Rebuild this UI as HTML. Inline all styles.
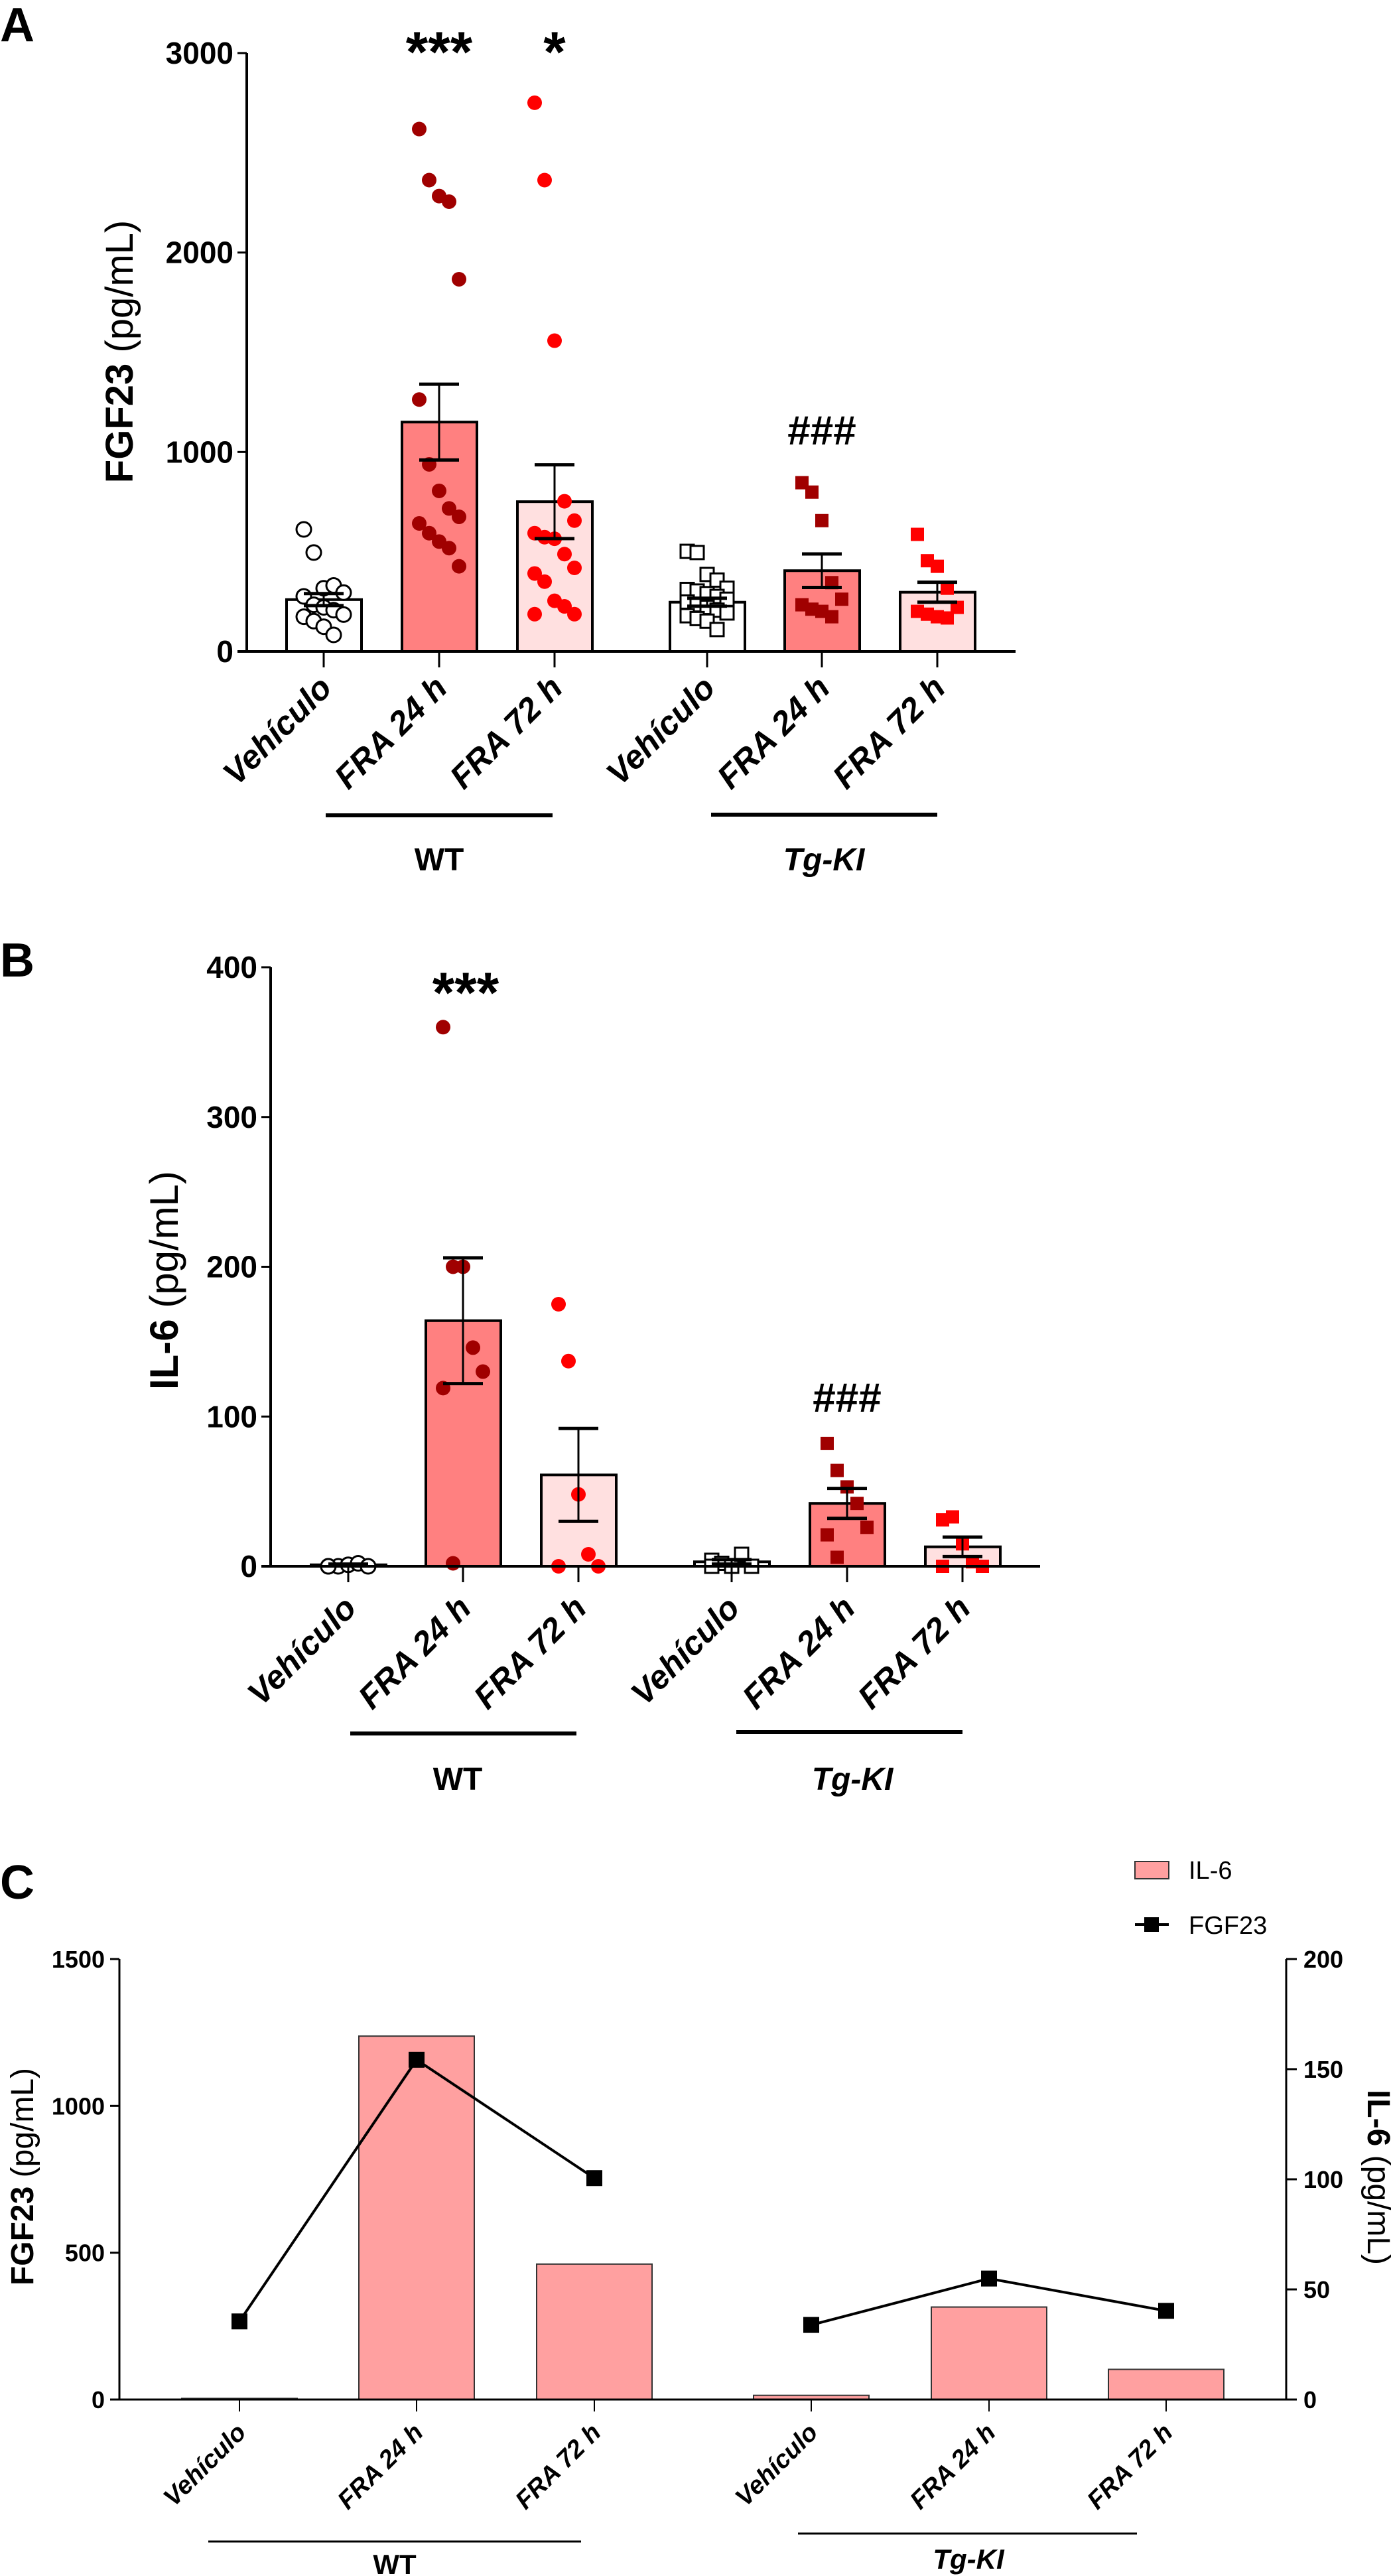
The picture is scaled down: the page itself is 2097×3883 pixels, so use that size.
<!DOCTYPE html>
<html><head><meta charset="utf-8"><style>
html,body{margin:0;padding:0;background:#fff}
svg{display:block;font-family:"Liberation Sans",Arial,sans-serif}
</style></head><body>
<svg id="fig" width="2097" height="3883" viewBox="0 0 2097 3883" xmlns="http://www.w3.org/2000/svg"></svg>
<script>
// ---------- Panel A data (FGF23 pg/mL) ----------
const catsA = ["Vehículo","FRA 24 h","FRA 72 h","Vehículo","FRA 24 h","FRA 72 h"];
const meansA = [260, 1150, 751, 247, 405, 297];
const semA = [30, 190, 185, 20, 84, 50];
const ptsA0 = [612,496,317,331,295,276,234,221,207,185,174,152,124,83];
const ptsA1 = [2619,2363,2283,2255,1866,1263,938,805,717,675,642,593,551,518,427];
const ptsA2 = [2751,2363,1558,753,656,593,573,565,488,419,391,350,254,226,187,187];
const ptsA3 = [502,496,386,358,317,311,303,290,276,262,248,234,221,207,193,179,165,152,110];
const ptsA4 = [846,799,656,345,262,234,212,201,174];
const ptsA5 = [587,455,427,317,221,201,187,174,168];
const ticksA = [0,1000,2000,3000];
// ---------- Panel B data (IL-6 pg/mL) ----------
const meansB = [1, 164, 61, 3, 42, 13];
const semB = [0.5, 42, 31, 1.5, 10, 6.5];
const ptsB0 = [0,0,1,2,0,0];
const ptsB1 = [360,200,200,146,130,119,2];
const ptsB2 = [175,137,48,8,0,0];
const ptsB3 = [4,2,0,8,0,0];
const ptsB4 = [82,64,53,42,26,21,6];
const ptsB5 = [31,33,15,3,0,0];
const ticksB = [0,100,200,300,400];
// ---------- Panel C data ----------
const il6C = [0.5, 165, 61.5, 1.9, 42, 13.7];
const fgfC = [266, 1157, 754, 254, 412, 302];
const ticksCL = [0,500,1000,1500];
const ticksCR = [0,50,100,150,200];

const NS="http://www.w3.org/2000/svg";
const svg=document.getElementById('fig');
function el(tag,attrs,parent,text){const e=document.createElementNS(NS,tag);for(const k in attrs)e.setAttribute(k,attrs[k]);if(text!==undefined)e.textContent=text;(parent||svg).appendChild(e);return e;}

function barPanel(cfg){
  const g=el('g',{});
  
  
  const y=v=>cfg.y0-(v-cfg.vmin)/(cfg.vmax-cfg.vmin)*(cfg.y0-cfg.y1);
  const ya=el('line',{x1:cfg.ax,y1:cfg.y1,x2:cfg.ax,y2:cfg.y0,stroke:'#000','stroke-width':4},g);
  
  cfg.ticks.forEach(t=>{
    el('line',{x1:cfg.ax-14,y1:y(t),x2:cfg.ax,y2:y(t),stroke:'#000','stroke-width':3},g);
    const tl=el('text',{x:cfg.ax-20,y:y(t)+16,'text-anchor':'end','font-size':46,'font-weight':'bold'},g,String(t));
    
  });
  cfg.means.forEach((m,i)=>{
    const cx=cfg.cx[i];
    const b=el('rect',{x:cx-56,y:y(m),width:113,height:cfg.y0-y(m),fill:cfg.fills[i],stroke:'#000','stroke-width':4},g);
    
  });
  cfg.pts.forEach((arr,i)=>{
    const cx=cfg.cx[i];
    arr.forEach((v,j)=>{
      const off=((j%5)-2)*15;
      const py=y(v);
      let p;
      if(cfg.sq[i]) p=el('rect',{x:cx+off-10,y:py-10,width:20,height:20,fill:cfg.pf[i],stroke:cfg.pf[i]==='#fff'?'#000':'none','stroke-width':3},g);
      else p=el('circle',{cx:cx+off,cy:py,r:11,fill:cfg.pf[i],stroke:cfg.pf[i]==='#fff'?'#000':'none','stroke-width':3},g);
      
    });
  });
  cfg.means.forEach((m,i)=>{
    const cx=cfg.cx[i];const s=cfg.sem[i];
    el('line',{x1:cx,y1:y(m+s),x2:cx,y2:y(Math.max(0,m-s)),stroke:'#000','stroke-width':3},g);
    el('line',{x1:cx-30,y1:y(m+s),x2:cx+30,y2:y(m+s),stroke:'#000','stroke-width':5},g);
    el('line',{x1:cx-30,y1:y(Math.max(0,m-s)),x2:cx+30,y2:y(Math.max(0,m-s)),stroke:'#000','stroke-width':5},g);
  });
  const xa=el('line',{x1:cfg.ax-14,y1:cfg.y0,x2:cfg.xend,y2:cfg.y0,stroke:'#000','stroke-width':4},g);
  
  catsA.forEach((c,i)=>{
    const cx=cfg.cx[i];
    el('line',{x1:cx,y1:cfg.y0,x2:cx,y2:cfg.y0+24,stroke:'#000','stroke-width':3},g);
    const t=el('text',{x:cx+15,y:cfg.y0+cfg.lab,'text-anchor':'end','font-size':50,'font-weight':'bold','font-style':'italic',transform:`rotate(-45 ${cx+15} ${cfg.y0+cfg.lab})`},g,c);
    
  });
  return g;
}

// Panel A
el('text',{x:0,y:62,'font-size':72,'font-weight':'bold'},svg,'A');
barPanel({name:'panel-a-chart',ax:372,y0:982,y1:80,vmin:0,vmax:3000,xend:1531,ticks:ticksA,
  cx:[488,662,836,1066,1239,1413],means:meansA,sem:semA,
  fills:['#fff','#ff8080','#ffe0e0','#fff','#ff8080','#ffe0e0'],
  pts:[ptsA0,ptsA1,ptsA2,ptsA3,ptsA4,ptsA5],sq:[0,0,0,1,1,1],
  pf:['#fff','#a00000','#ff0000','#fff','#a00000','#ff0000'],lab:58});
let t;
t=el('text',{x:0,y:0,'font-size':58,transform:'translate(200 530) rotate(-90)','text-anchor':'middle'},svg);
el('tspan',{'font-weight':'bold'},t,'FGF23');el('tspan',{},t,'  (pg/mL)');

el('text',{x:662,y:108,'text-anchor':'middle','font-size':86,'font-weight':'bold'},svg,'***');
el('text',{x:836,y:108,'text-anchor':'middle','font-size':86,'font-weight':'bold'},svg,'*');
el('text',{x:1239,y:670,'text-anchor':'middle','font-size':62,'font-weight':'bold'},svg,'###');
el('line',{x1:491,y1:1229,x2:833,y2:1229,stroke:'#000','stroke-width':6});
el('line',{x1:1072,y1:1228,x2:1413,y2:1228,stroke:'#000','stroke-width':6});
el('text',{x:662,y:1312,'text-anchor':'middle','font-size':48,'font-weight':'bold'},svg,'WT');
el('text',{x:1242,y:1312,'text-anchor':'middle','font-size':48,'font-weight':'bold','font-style':'italic'},svg,'Tg-KI');

// Panel B
el('text',{x:0,y:1472,'font-size':72,'font-weight':'bold'},svg,'B');
barPanel({name:'panel-b-chart',ax:408,y0:2361,y1:1458,vmin:0,vmax:400,xend:1568,ticks:ticksB,
  cx:[525,698,872,1103,1277,1451],means:meansB,sem:semB,
  fills:['#fff','#ff8080','#ffe0e0','#fff','#ff8080','#ffe0e0'],
  pts:[ptsB0,ptsB1,ptsB2,ptsB3,ptsB4,ptsB5],sq:[0,0,0,1,1,1],
  pf:['#fff','#a00000','#ff0000','#fff','#a00000','#ff0000'],lab:66});
t=el('text',{x:0,y:0,'font-size':60,transform:'translate(268 1930) rotate(-90)','text-anchor':'middle'},svg);
el('tspan',{'font-weight':'bold'},t,'IL-6');el('tspan',{},t,' (pg/mL)');

el('text',{x:702,y:1526,'text-anchor':'middle','font-size':86,'font-weight':'bold'},svg,'***');
el('text',{x:1277,y:2128,'text-anchor':'middle','font-size':62,'font-weight':'bold'},svg,'###');
el('line',{x1:528,y1:2613,x2:869,y2:2613,stroke:'#000','stroke-width':6});
el('line',{x1:1110,y1:2611,x2:1451,y2:2611,stroke:'#000','stroke-width':6});
el('text',{x:690,y:2698,'text-anchor':'middle','font-size':48,'font-weight':'bold'},svg,'WT');
el('text',{x:1285,y:2698,'text-anchor':'middle','font-size':48,'font-weight':'bold','font-style':'italic'},svg,'Tg-KI');

// Panel C
(function(){
  const g=el('g',{});
  
  const y0=3617,y1=2953,axL=180,axR=1939;
  const yL=v=>y0-v/1500*(y0-y1), yR=v=>y0-v/200*(y0-y1);
  const cx=[361,628,896,1223,1491,1758];
  el('line',{x1:axL,y1:y1,x2:axL,y2:y0,stroke:'#000','stroke-width':3},g);
  el('line',{x1:axR,y1:y1,x2:axR,y2:y0,stroke:'#000','stroke-width':3},g);
  ticksCL.forEach(v=>{el('line',{x1:axL-14,y1:yL(v),x2:axL,y2:yL(v),stroke:'#000','stroke-width':3},g);
    const l=el('text',{x:axL-22,y:yL(v)+13,'text-anchor':'end','font-size':36,'font-weight':'bold'},g,String(v));
    });
  ticksCR.forEach(v=>{el('line',{x1:axR,y1:yR(v),x2:axR+16,y2:yR(v),stroke:'#000','stroke-width':3},g);
    const l=el('text',{x:axR+26,y:yR(v)+13,'text-anchor':'start','font-size':36,'font-weight':'bold'},g,String(v));
    });
  il6C.forEach((v,i)=>{const b=el('rect',{x:cx[i]-87,y:yR(v),width:174,height:y0-yR(v),fill:'#ffa0a0',stroke:'#333','stroke-width':2},g);
    });
  el('line',{x1:axL,y1:y0,x2:axR,y2:y0,stroke:'#000','stroke-width':3},g);
  const seg=(a,b)=>{const pts=[];for(let i=a;i<=b;i++)pts.push(cx[i]+','+yL(fgfC[i]));
    const p=el('polyline',{points:pts.join(' '),fill:'none',stroke:'#000','stroke-width':4},g);
    };
  seg(0,2);seg(3,5);
  fgfC.forEach((v,i)=>{const m=el('rect',{x:cx[i]-12,y:yL(v)-12,width:24,height:24,fill:'#000'},g);
    });
  catsA.forEach((c,i)=>{el('line',{x1:cx[i],y1:y0,x2:cx[i],y2:y0+18,stroke:'#000','stroke-width':2},g);
    const tl=el('text',{x:cx[i]+12,y:y0+52,'text-anchor':'end','font-size':38,'font-weight':'bold','font-style':'italic',transform:`rotate(-45 ${cx[i]+12} ${y0+52})`},g,c);
    });
})();
el('text',{x:0,y:2862,'font-size':72,'font-weight':'bold'},svg,'C');
t=el('text',{x:0,y:0,'font-size':48,transform:'translate(50 3281) rotate(-90)','text-anchor':'middle'},svg);
el('tspan',{'font-weight':'bold'},t,'FGF23');el('tspan',{},t,'  (pg/mL)');

t=el('text',{x:0,y:0,'font-size':48,transform:'translate(2062 3282) rotate(90)','text-anchor':'middle'},svg);
el('tspan',{'font-weight':'bold'},t,'IL-6');el('tspan',{},t,'  (pg/mL)');

el('line',{x1:314,y1:3831,x2:876,y2:3831,stroke:'#000','stroke-width':3});
el('line',{x1:1203,y1:3819,x2:1714,y2:3819,stroke:'#000','stroke-width':3});
el('text',{x:595,y:3880,'text-anchor':'middle','font-size':42,'font-weight':'bold'},svg,'WT');
el('text',{x:1460,y:3872,'text-anchor':'middle','font-size':42,'font-weight':'bold','font-style':'italic'},svg,'Tg-KI');
const lg=el('g',{});
el('rect',{x:1711,y:2806,width:51,height:26,fill:'#ffa0a0',stroke:'#333','stroke-width':2},lg);
el('text',{x:1792,y:2832,'font-size':38},lg,'IL-6');
el('line',{x1:1711,y1:2901,x2:1762,y2:2901,stroke:'#000','stroke-width':4},lg);
el('rect',{x:1725,y:2890,width:22,height:22,fill:'#000'},lg);
el('text',{x:1792,y:2915,'font-size':38},lg,'FGF23');
</script>
</body></html>
